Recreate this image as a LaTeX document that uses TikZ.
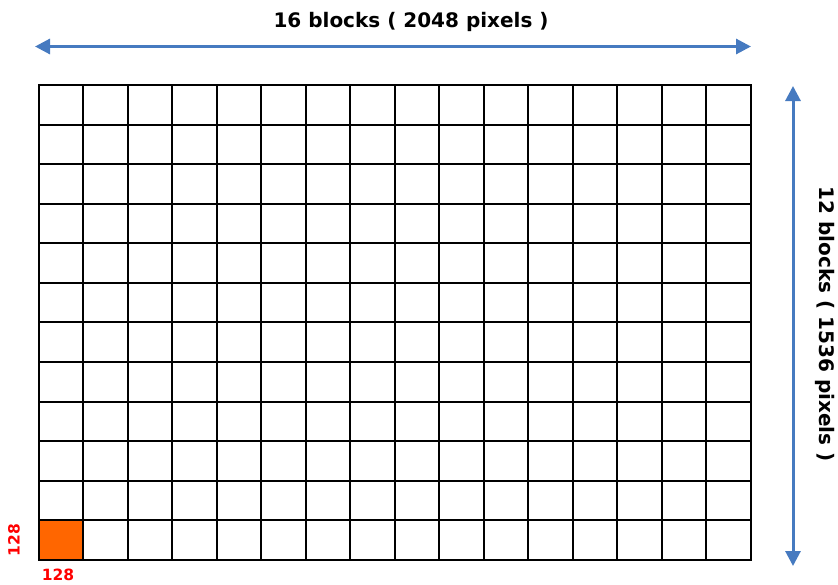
\documentclass[tikz,border=0pt]{standalone}
\usepackage{fontspec}
\setmainfont{DejaVu Sans}
\usetikzlibrary{arrows.meta, positioning, calc}
\definecolor{arrowblue}{RGB}{70,122,192}
\definecolor{blockorange}{RGB}{255,102,0}

\begin{document}
\begin{tikzpicture}[x=1pt, y=-1pt, every node/.style={font=\bfseries\fontsize{20}{24}\selectfont},
    dimarrow/.style={{Triangle[length=15pt,width=15pt]}-{Triangle[length=15pt,width=15pt]}, line width=3pt, arrowblue},
    redlabel/.style={text=red, font=\bfseries\fontsize{15.5}{18}\selectfont}]
    \useasboundingbox (0,0) rectangle (838,584);

    % orange block in the corner
    \fill[blockorange] (38.5,520.4) rectangle (83,560);

    % grid of blocks
    \foreach \i in {0,...,16}
        \draw[line width=2pt] ({38.5+\i*44.53},85) -- ({38.5+\i*44.53},560);
    \foreach \j in {0,...,12}
        \draw[line width=2pt, line cap=rect] (38.5,{85+\j*39.58}) -- (751,{85+\j*39.58});

    % dimension arrows
    \coordinate (wleft) at (35,46.5);
    \coordinate (wright) at (751,46.5);
    \coordinate (htop) at (793,86);
    \coordinate (hbottom) at (793,566);
    \draw[dimarrow] (wleft) -- (wright);
    \draw[dimarrow] (htop) -- (hbottom);

    \node (wlabel) at (411,22) {16 blocks ( 2048 pixels )};
    \node[rotate=-90] (hlabel) at (825,324) {12 blocks ( 1536 pixels )};

    \node[redlabel, rotate=90] (bh) at (14,540) {128};
    \node[redlabel] (bw) at (58,575) {128};
\end{tikzpicture}
\end{document}
